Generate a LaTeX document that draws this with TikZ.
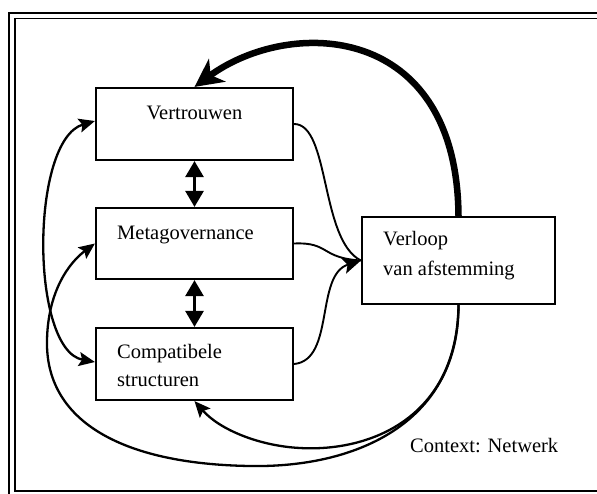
\documentclass[tikz,border=0pt]{standalone}
\usepackage{fontspec}
\setmainfont{Liberation Serif}
\usetikzlibrary{arrows.meta}
\begin{document}
\begin{tikzpicture}[x=1pt,y=-1pt,
  box/.style={draw,line width=2.2pt,minimum width=197pt,minimum height=72pt,inner sep=0pt},
  lbl/.style={font=\fontsize{20.5}{24}\selectfont,inner sep=0pt,anchor=base west},
  thin/.style={line width=1.9pt},
  side/.style={line width=2.3pt,{Stealth[length=16pt,width=14pt,inset=3pt]}-{Stealth[length=16pt,width=14pt,inset=3pt]}},
  vdbl/.style={line width=2.8pt,{Triangle[length=16pt,width=18pt]}-{Triangle[length=16pt,width=18pt]}},
  single/.style={line width=2.3pt,-{Stealth[length=16pt,width=14pt,inset=3pt]}}]
\useasboundingbox (0,0) rectangle (597,493);
\clip (0,0) rectangle (597,493);
% frame
\draw[line width=2.6pt] (9,500) -- (9,13) -- (610,13);
\draw[line width=1.6pt] (610,18.5) -- (15,18.5) -- (15,491) -- (610,491);
% boxes
\node[box] (vert) at (194.5,124) {};
\node[box,minimum height=71pt] (meta) at (194.5,243.5) {};
\node[box] (comp) at (194.5,364) {};
\node[box,minimum width=193pt,minimum height=87pt] (verl) at (458.5,260.5) {};
% labels
\node[lbl,anchor=base] (tvert) at (194.5,119) {Vertrouwen};
\node[lbl] (tmeta) at (117,239) {Metagovernance};
\node[lbl] (tcomp1) at (117,358) {Compatibele};
\node[lbl] (tcomp2) at (117,386) {structuren};
\node[lbl] (tverl1) at (383,245) {Verloop};
\node[lbl] (tverl2) at (383,275) {van afstemming};
\node[lbl] (tctx) at (410,452) {Context: Netwerk};
% thick feedback arrow
\draw[line width=6.5pt,-{Stealth[length=28pt,width=28pt,inset=8pt]}]
  (verl.north) .. controls (457,22) and (290,17) .. (vert.north);
% vertical double arrows
\draw[vdbl] (vert.south) -- (meta.north);
\draw[vdbl] (meta.south) -- (comp.north);
% converging arrows into Verloop
\draw[thin] (vert.east) .. controls (330,124) and (320,240) .. (verl.west);
\draw[thin] (meta.east) .. controls (330,242) and (320,258) .. (verl.west);
\draw[thin,-{Stealth[length=18pt,width=16pt,inset=4pt]}] (comp.east) .. controls (335,360) and (315,275) .. (verl.west);
% left double arc
\draw[side] ([yshift=3pt]vert.west) .. controls (30,140) and (30,350) .. ([yshift=2pt]comp.west);
% Verloop -> Metagovernance
\draw[single] (verl.south) .. controls (459,420) and (360,468) .. (250,466)
  .. controls (120,464) and (45,420) .. (47,340)
  .. controls (48,290) and (70,262) .. (meta.west);
% Verloop -> Compatibele
\draw[single] (verl.south) .. controls (457,418) and (370,452) .. (300,448)
  .. controls (260,446) and (220,430) .. (comp.south);
\end{tikzpicture}
\end{document}
